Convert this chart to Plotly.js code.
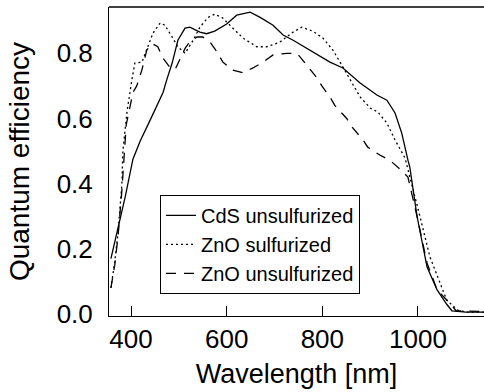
<!DOCTYPE html>
<html>
<head>
<meta charset="utf-8">
<script src="https://cdn.plot.ly/plotly-3.0.1.min.js"></script>
<style>html,body{margin:0;padding:0;overflow:hidden;background:#fff}#chart{width:484px;height:392px}</style>
</head>
<body>
<div id="chart"></div>
<script>
// CdS unsulfurized (solid)
var cdsX = [358, 362, 375, 388, 404, 419, 440, 456, 467, 475, 486, 498, 513, 523, 544, 558, 575, 600, 621, 649, 670, 697, 718, 739, 774, 816, 843, 879, 914, 935, 952, 966, 979, 983, 998, 1019, 1040, 1060, 1071, 1100, 1140];
var cdsY = [0.17, 0.196, 0.28, 0.36, 0.475, 0.53, 0.595, 0.647, 0.68, 0.72, 0.77, 0.84, 0.877, 0.88, 0.865, 0.86, 0.868, 0.89, 0.917, 0.926, 0.91, 0.886, 0.856, 0.84, 0.81, 0.773, 0.755, 0.709, 0.672, 0.656, 0.617, 0.555, 0.472, 0.45, 0.30, 0.144, 0.074, 0.03, 0.01, 0.006, 0.006];
// ZnO sulfurized (dotted)
var znsX = [358, 366, 373, 381, 383, 392, 402, 408, 423, 433, 446, 461, 471, 486, 498, 513, 530, 544, 561, 575, 592, 613, 634, 663, 684, 711, 739, 757, 780, 801, 822, 843, 858, 879, 900, 916, 935, 952, 973, 987, 1004, 1025, 1046, 1060, 1083, 1102, 1140];
var znsY = [0.08, 0.16, 0.25, 0.40, 0.50, 0.625, 0.72, 0.77, 0.773, 0.81, 0.862, 0.893, 0.886, 0.85, 0.82, 0.80, 0.84, 0.88, 0.91, 0.92, 0.908, 0.877, 0.847, 0.82, 0.82, 0.834, 0.865, 0.88, 0.868, 0.847, 0.81, 0.758, 0.718, 0.666, 0.632, 0.62, 0.586, 0.534, 0.478, 0.40, 0.30, 0.175, 0.095, 0.043, 0.012, 0.006, 0.006];
// ZnO unsulfurized (dashed)
var znuX = [358, 366, 373, 381, 390, 404, 412, 423, 433, 444, 456, 467, 481, 492, 513, 523, 538, 550, 565, 580, 592, 613, 634, 655, 676, 697, 726, 747, 764, 789, 799, 816, 826, 851, 862, 885, 895, 920, 941, 966, 979, 998, 1019, 1040, 1060, 1080, 1140];
var znuY = [0.08, 0.15, 0.24, 0.38, 0.58, 0.68, 0.70, 0.75, 0.81, 0.83, 0.82, 0.785, 0.757, 0.75, 0.815, 0.835, 0.85, 0.85, 0.835, 0.804, 0.773, 0.748, 0.74, 0.755, 0.773, 0.795, 0.80, 0.80, 0.77, 0.724, 0.70, 0.666, 0.64, 0.60, 0.574, 0.534, 0.512, 0.488, 0.472, 0.44, 0.42, 0.30, 0.156, 0.074, 0.043, 0.01, 0.008];

var names = ['CdS unsulfurized', 'ZnO sulfurized', 'ZnO unsulfurized'];
var xTicks = [400, 600, 800, 1000];
var yTicks = [0.0, 0.2, 0.4, 0.6, 0.8];
var yTickText = ['0.0', '0.2', '0.4', '0.6', '0.8'];

var font = 'Liberation Sans, Arial, sans-serif';
var traces = [
  {x: cdsX, y: cdsY, name: names[0], mode: 'lines', line: {color: '#000', width: 1.3, dash: 'solid'}},
  {x: znsX, y: znsY, name: names[1], mode: 'lines', line: {color: '#000', width: 1.3, dash: '2px,3px'}},
  {x: znuX, y: znuY, name: names[2], mode: 'lines', line: {color: '#000', width: 1.3, dash: '10px,8px'}}
];

var layout = {
  width: 484, height: 392,
  margin: {l: 109, r: 0, t: 7, b: 76, pad: 0},
  paper_bgcolor: '#fff', plot_bgcolor: '#fff',
  font: {family: font, color: '#000', size: 26},
  showlegend: true,
  legend: {x: 0.136, y: 0.392, xanchor: 'left', yanchor: 'top', bgcolor: '#fff', bordercolor: '#000', borderwidth: 1,
           font: {size: 20, family: font, color: '#000'}, tracegroupgap: 0, itemwidth: 30},
  xaxis: {range: [354, 1138], tickvals: xTicks, ticktext: xTicks.map(String), ticks: 'inside', ticklen: 10, tickwidth: 1, tickcolor: '#000',
          showline: true, linecolor: '#000', linewidth: 1, mirror: false, showgrid: false, zeroline: false,
          tickfont: {size: 26, family: font}, title: {text: 'Wavelength [nm]', font: {size: 27, family: font}, standoff: 10}},
  yaxis: {range: [-0.006, 0.942], tickvals: yTicks, ticktext: yTickText, ticks: '', showline: true, linecolor: '#000', linewidth: 1,
          showgrid: false, zeroline: false, ticklabelstandoff: 10,
          tickfont: {size: 26, family: font}, title: {text: 'Quantum efficiency', font: {size: 28, family: font}, standoff: 18}},
  shapes: [{type: 'line', xref: 'paper', yref: 'paper', x0: 0, x1: 1, y0: 1, y1: 1, line: {color: '#000', width: 1.5}}]
};
Plotly.newPlot('chart', traces, layout, {displayModeBar: false, staticPlot: true});
</script>
</body>
</html>
